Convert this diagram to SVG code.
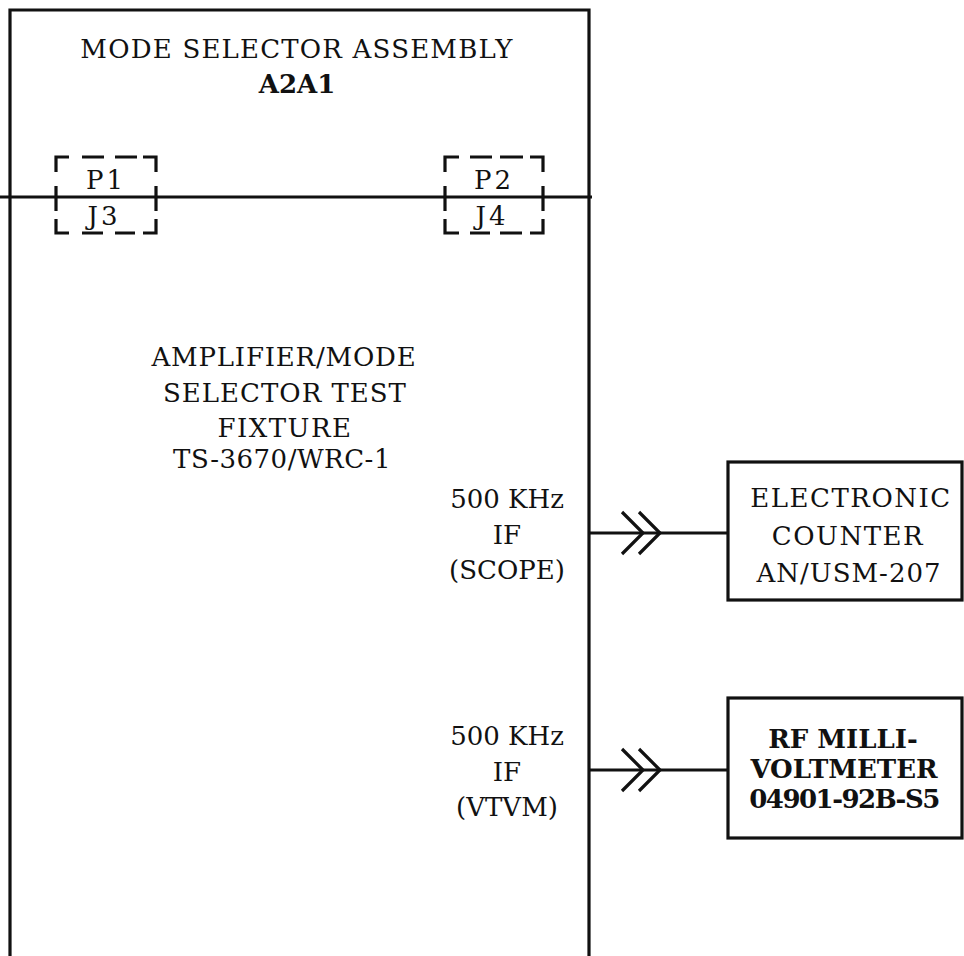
<svg xmlns="http://www.w3.org/2000/svg" width="964" height="956" viewBox="0 0 964 956">
<style>
.ln{fill:none;stroke:#111;stroke-width:3.2}
.ds{fill:none;stroke:#111;stroke-width:3.2}
.t{font-family:"DejaVu Serif","Liberation Serif",serif;font-size:26px;fill:#111;text-anchor:middle}
.b{font-weight:bold}
</style>
<rect width="964" height="956" fill="#fff"/>
<g id="fixture">
<path class="ln" d="M10,956 V10 H589 V956"/>
<line class="ln" x1="0" y1="197" x2="592" y2="197"/>
<text class="t" x="297" y="58" letter-spacing="1.2">MODE SELECTOR ASSEMBLY</text>
<text class="t b" x="297" y="93">A2A1</text>
<text class="t" x="284" y="366" letter-spacing="0.8">AMPLIFIER/MODE</text>
<text class="t" x="285" y="402" letter-spacing="1">SELECTOR TEST</text>
<text class="t" x="285" y="437" letter-spacing="1.5">FIXTURE</text>
<text class="t" x="282" y="468" letter-spacing="0.5">TS-3670/WRC-1</text>
</g>
<g id="p1j3">
<path class="ds" d="M56,172 V157 H69 M82,157 H104 M115,157 H137 M143,157 H156 V172 M56,186 V211 M156,186 V211 M56,219 V233 H69 M82,233 H103 M115,233 H135 M143,233 H156 V219"/>
<text class="t" x="106" y="189" letter-spacing="3">P1</text>
<text class="t" x="104" y="225" letter-spacing="3">J3</text>
</g>
<g id="p2j4">
<path class="ds" d="M445,172 V157 H459 M470,157 H492 M500,157 H523 M530,157 H543 V172 M445,186 V211 M543,186 V211 M445,219 V233 H459 M470,233 H490 M500,233 H522 M530,233 H543 V219"/>
<text class="t" x="494" y="189" letter-spacing="3">P2</text>
<text class="t" x="492" y="225" letter-spacing="3">J4</text>
</g>
<g id="scope-label">
<text class="t" x="507" y="508">500 KHz</text>
<text class="t" x="507" y="544">IF</text>
<text class="t" x="507" y="579">(SCOPE)</text>
</g>
<g id="vtvm-label">
<text class="t" x="507" y="745">500 KHz</text>
<text class="t" x="507" y="781">IF</text>
<text class="t" x="507" y="816">(VTVM)</text>
</g>
<g id="counter">
<rect class="ln" x="728" y="462" width="234" height="138"/>
<text class="t" x="851" y="507" letter-spacing="1.5">ELECTRONIC</text>
<text class="t" x="848" y="545" letter-spacing="1.5">COUNTER</text>
<text class="t" x="849" y="582" letter-spacing="1">AN/USM-207</text>
</g>
<g id="millivoltmeter">
<rect class="ln" x="728" y="698" width="234" height="140"/>
<text class="t b" x="843" y="748" font-size="25">RF MILLI-</text>
<text class="t b" x="844" y="778" font-size="25">VOLTMETER</text>
<text class="t b" x="844" y="808" font-size="25" letter-spacing="-1.5">04901-92B-S5</text>
</g>
<g id="connectors">
<line class="ln" x1="589" y1="533" x2="728" y2="533"/>
<path class="ln" d="M622,512 L643,533 L622,554 M639,512 L660,533 L639,554"/>
<line class="ln" x1="589" y1="770" x2="728" y2="770"/>
<path class="ln" d="M622,749 L643,770 L622,791 M639,749 L660,770 L639,791"/>
</g>
</svg>
